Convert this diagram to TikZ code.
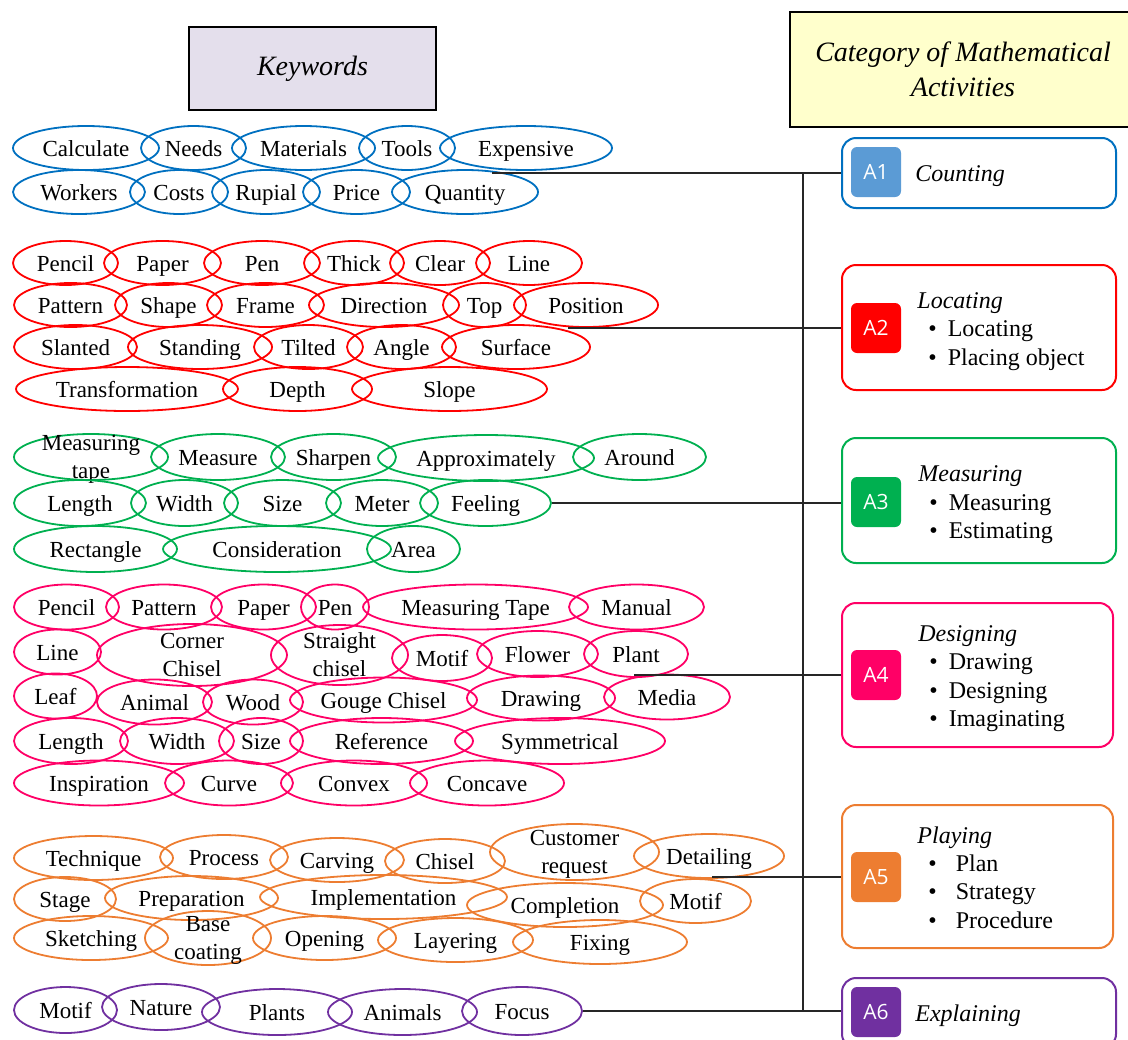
\documentclass[tikz,border=0pt]{standalone}
\usepackage{fontspec}
\setmainfont{Liberation Serif}
\newfontfamily\badgefont{Open Sans}
\usepackage{xcolor}
\usetikzlibrary{positioning,shapes.geometric}
\definecolor{kwblue}{RGB}{0,112,192}
\definecolor{kwred}{RGB}{255,0,0}
\definecolor{kwgreen}{RGB}{0,176,80}
\definecolor{kwpink}{RGB}{255,0,102}
\definecolor{kworange}{RGB}{237,125,49}
\definecolor{kwpurple}{RGB}{112,48,160}
\definecolor{badgeblue}{RGB}{91,155,213}
\definecolor{headlav}{RGB}{228,223,236}
\definecolor{headyellow}{RGB}{255,255,204}
\newcommand{\bitem}{\hspace*{5.5pt}\textbullet\hspace{5.5pt}}
\newcommand{\bitemw}{\hspace*{5.5pt}\textbullet\hspace{9.5pt}}
\newcommand{\twol}[2]{\begin{tabular}{@{}c@{}}#1\\#2\end{tabular}}

\begin{document}
\begin{tikzpicture}[x=0.5pt, y=-0.5pt,
    kw/.style={ellipse, draw=#1, line width=0.9pt, inner xsep=-30pt, inner ysep=0pt,
      minimum height=22pt, text height=9.5pt, text depth=1.5pt,
      font=\fontsize{11.5}{14}\selectfont},
    ew/.style={minimum width=#1*0.5pt},
    eh/.style={minimum height=#1*0.5pt},
    head/.style={draw=black, line width=1.4pt, align=center,
      font=\fontsize{14}{17.5}\selectfont\itshape},
    actbox/.style={draw=#1, line width=1pt, rounded corners=7pt, fill=white,
      minimum width=137pt},
    badge/.style={fill=#1, rounded corners=3pt, minimum width=25pt, minimum height=25pt,
      inner sep=0pt, text=white, font=\badgefont\fontsize{10.5}{12}\selectfont},
    acttext/.style={anchor=west, align=left, inner sep=0pt,
      font=\fontsize{12}{14.2}\selectfont},
    link/.style={line width=1pt, draw=black!85}]
  \useasboundingbox (0,0) rectangle (1128,1039);

  % headings
  \node[head, fill=headlav, minimum width=123.5pt, minimum height=41.5pt] (kwhead)
      at (312.5,68.5) {Keywords};
  \node[head, fill=headyellow, minimum width=173pt, minimum height=57.5pt] (cathead)
      at (963,69.5) {Category of Mathematical\\Activities};

  % keywords: counting
  \node[kw=kwblue, ew=146] (bCalc)  at (86,148)    {Calculate};
  \node[kw=kwblue, ew=105] (bNeeds) at (193.5,148) {Needs};
  \node[kw=kwblue, ew=143] (bMater) at (303.5,148) {Materials};
  \node[kw=kwblue, ew=96]  (bTools) at (407,148)   {Tools};
  \node[kw=kwblue, ew=172] (bExpen) at (526,148)   {Expensive};
  \node[kw=kwblue, ew=132] (bWork)  at (79,192)    {Workers};
  \node[kw=kwblue, ew=98]  (bCosts) at (179,192)   {Costs};
  \node[kw=kwblue, ew=108] (bRupia) at (266,192)   {Rupial};
  \node[kw=kwblue, ew=107] (bPrice) at (356.5,192) {Price};
  \node[kw=kwblue, ew=146] (bQuant) at (465,192)   {Quantity};

  % keywords: locating
  \node[kw=kwred, ew=105] (rPencil) at (65.5,263)  {Pencil};
  \node[kw=kwred, ew=117] (rPaper)  at (162.5,263) {Paper};
  \node[kw=kwred, ew=116] (rPen)    at (262,263)   {Pen};
  \node[kw=kwred, ew=100] (rThick)  at (354,263)   {Thick};
  \node[kw=kwred, ew=100] (rClear)  at (440,263)   {Clear};
  \node[kw=kwred, ew=106] (rLine)   at (529,263)   {Line};
  \node[kw=kwred, ew=113] (rPatt)   at (70.5,305)  {Pattern};
  \node[kw=kwred, ew=107] (rShape)  at (168.5,305) {Shape};
  \node[kw=kwred, ew=117] (rFrame)  at (265.5,305) {Frame};
  \node[kw=kwred, ew=150] (rDirec)  at (384,305)   {Direction};
  \node[kw=kwred, ew=83]  (rTop)    at (484.5,305) {Top};
  \node[kw=kwred, ew=144] (rPosit)  at (586,305)   {Position};
  \node[kw=kwred, ew=123] (rSlant)  at (75.5,347)  {Slanted};
  \node[kw=kwred, ew=144] (rStand)  at (200,347)   {Standing};
  \node[kw=kwred, ew=109] (rTilt)   at (308.5,347) {Tilted};
  \node[kw=kwred, ew=109] (rAngle)  at (401.5,347) {Angle};
  \node[kw=kwred, ew=148] (rSurf)   at (516,347)   {Surface};
  \node[kw=kwred, ew=222] (rTrans)  at (127,389)   {Transformation};
  \node[kw=kwred, ew=149] (rDepth)  at (297.5,389) {Depth};
  \node[kw=kwred, ew=195] (rSlope)  at (449.5,389) {Slope};

  % keywords: measuring
  \node[kw=kwgreen, ew=154, eh=46] (gMtape)  at (91,457)    {\twol{Measuring}{tape}};
  \node[kw=kwgreen, ew=134, eh=46] (gMeas)   at (218,457)   {Measure};
  \node[kw=kwgreen, ew=125, eh=46] (gSharp)  at (333.5,457) {Sharpen};
  \node[kw=kwgreen, ew=216, eh=46] (gApprox) at (486,458)   {Approximately};
  \node[kw=kwgreen, ew=133, eh=46] (gAround) at (639.5,457) {Around};
  \node[kw=kwgreen, ew=132, eh=46] (gLength) at (80,503)    {Length};
  \node[kw=kwgreen, ew=107, eh=46] (gWidth)  at (184.5,503) {Width};
  \node[kw=kwgreen, ew=117, eh=46] (gSize)   at (282.5,503) {Size};
  \node[kw=kwgreen, ew=112, eh=46] (gMeter)  at (382,503)   {Meter};
  \node[kw=kwgreen, ew=131, eh=46] (gFeel)   at (485.5,503) {Feeling};
  \node[kw=kwgreen, ew=163, eh=46] (gRect)   at (95.5,549)  {Rectangle};
  \node[kw=kwgreen, ew=228, eh=46] (gConsid) at (277,549)   {Consideration};
  \node[kw=kwgreen, ew=93, eh=46]  (gArea)   at (413.5,549) {Area};

  % keywords: designing
  \node[kw=kwpink, ew=105, eh=45] (pPencil) at (66.5,607)  {Pencil};
  \node[kw=kwpink, ew=116, eh=45] (pPatt)   at (164,607)   {Pattern};
  \node[kw=kwpink, ew=105, eh=45] (pPaper)  at (263.5,607) {Paper};
  \node[kw=kwpink, ew=68, eh=45]  (pPen)    at (335,607)   {Pen};
  \node[kw=kwpink, ew=225, eh=45] (pMtape)  at (475.5,607) {Measuring Tape};
  \node[kw=kwpink, ew=135, eh=45] (pManual) at (636.5,607) {Manual};
  \node[kw=kwpink, ew=87, eh=45]  (pLine)   at (57.5,652)  {Line};
  \node[kw=kwpink, ew=190, eh=62] (pCorner) at (192,655)   {\twol{Corner}{Chisel}};
  \node[kw=kwpink, ew=137, eh=60] (pStrai)  at (339.5,655) {\twol{Straight}{chisel}};
  \node[kw=kwpink, ew=100, eh=46] (pMotif)  at (442,658)   {Motif};
  \node[kw=kwpink, ew=121, eh=46] (pFlower) at (537.5,654) {Flower};
  \node[kw=kwpink, ew=104, eh=46] (pPlant)  at (636,654)   {Plant};
  \node[kw=kwpink, ew=83, eh=45]  (pLeaf)   at (55.5,696)  {Leaf};
  \node[kw=kwpink, ew=115, eh=45] (pAnimal) at (154.5,702) {Animal};
  \node[kw=kwpink, ew=100, eh=45] (pWood)   at (253,702)   {Wood};
  \node[kw=kwpink, ew=187, eh=45] (pGouge)  at (383.5,700) {Gouge Chisel};
  \node[kw=kwpink, ew=148, eh=45] (pDraw)   at (541,698)   {Drawing};
  \node[kw=kwpink, ew=126, eh=45] (pMedia)  at (667,697)   {Media};
  \node[kw=kwpink, ew=114, eh=46] (pLength) at (71,741)    {Length};
  \node[kw=kwpink, ew=114, eh=46] (pWidth)  at (177,741)   {Width};
  \node[kw=kwpink, ew=84, eh=46]  (pSize)   at (261,741)   {Size};
  \node[kw=kwpink, ew=183, eh=46] (pRef)    at (381.5,741) {Reference};
  \node[kw=kwpink, ew=210, eh=46] (pSymm)   at (560,741)   {Symmetrical};
  \node[kw=kwpink, ew=170, eh=45] (pInsp)   at (99,783)    {Inspiration};
  \node[kw=kwpink, ew=128, eh=45] (pCurve)  at (229,783)   {Curve};
  \node[kw=kwpink, ew=146, eh=45] (pConvex) at (354,783)   {Convex};
  \node[kw=kwpink, ew=154, eh=45] (pConcav) at (487,783)   {Concave};

  % keywords: playing
  \node[kw=kworange, ew=159] (oTech)   at (93.5,858)  {Technique};
  \node[kw=kworange, ew=128] (oProc)   at (224,857)   {Process};
  \node[kw=kworange, ew=134] (oCarv)   at (337,860)   {Carving};
  \node[kw=kworange, ew=120] (oChisel) at (445,861)   {Chisel};
  \node[kw=kworange, ew=169, eh=56] (oCust) at (574.5,852) {\twol{Customer}{request}};
  \node[kw=kworange, ew=150] (oDetail) at (709,856)   {Detailing};
  \node[kw=kworange, ew=102] (oStage)  at (65,899)    {Stage};
  \node[kw=kworange, ew=173] (oPrep)   at (191.5,898) {Preparation};
  \node[kw=kworange, ew=247] (oImpl)   at (383.5,897) {Implementation};
  \node[kw=kworange, ew=196] (oCompl)  at (565,905)   {Completion};
  \node[kw=kworange, ew=111] (oMotif)  at (695.5,901) {Motif};
  \node[kw=kworange, ew=154] (oSketch) at (91,938)    {Sketching};
  \node[kw=kworange, ew=126, eh=54] (oBase) at (208,938) {\twol{Base}{coating}};
  \node[kw=kworange, ew=143] (oOpen)   at (324.5,938) {Opening};
  \node[kw=kworange, ew=155] (oLayer)  at (455.5,940) {Layering};
  \node[kw=kworange, ew=174] (oFix)    at (600,942)   {Fixing};

  % keywords: explaining
  \node[kw=kwpurple, ew=103, eh=46] (vMotif)  at (65.5,1010)  {Motif};
  \node[kw=kwpurple, ew=118, eh=46] (vNature) at (161,1007)   {Nature};
  \node[kw=kwpurple, ew=150, eh=46] (vPlants) at (277,1012)   {Plants};
  \node[kw=kwpurple, ew=149, eh=46] (vAnim)   at (402.5,1012) {Animals};
  \node[kw=kwpurple, ew=120, eh=48] (vFocus)  at (522,1011)   {Focus};

  % activity boxes
  \node[actbox=kwblue, minimum height=35pt] (a1) at (979,173) {};
  \node[badge=badgeblue] (b1) at (876,172) {A1};
  \node[acttext] (t1) at (915,176) {\textit{Counting}};

  \node[actbox=kwred, minimum height=62.5pt] (a2) at (979,327.5) {};
  \node[badge=kwred] (b2) at (876,328) {A2};
  \node[acttext] (t2) at (917,331.5)
      {\textit{Locating}\\\bitem Locating\\\bitem Placing object};

  \node[actbox=kwgreen, minimum height=62.5pt] (a3) at (979,500.5) {};
  \node[badge=kwgreen] (b3) at (876,502) {A3};
  \node[acttext] (t3) at (918,505)
      {\textit{Measuring}\\\bitem Measuring\\\bitem Estimating};

  \node[actbox=kwpink, minimum width=135.5pt, minimum height=72pt] (a4) at (977.5,675) {};
  \node[badge=kwpink] (b4) at (876,675) {A4};
  \node[acttext] (t4) at (918,678.5)
      {\textit{Designing}\\\bitem Drawing\\\bitem Designing\\\bitem Imaginating};

  \node[actbox=kworange, minimum width=135.5pt, minimum height=71.5pt] (a5) at (977.5,876.5) {};
  \node[badge=kworange] (b5) at (876,877) {A5};
  \node[acttext] (t5) at (917,877.5)
      {\textit{Playing}\\\bitemw Plan\\\bitemw Strategy\\\bitemw Procedure};

  \node[actbox=kwpurple, minimum height=35pt] (a6) at (979,1013) {};
  \node[badge=kwpurple] (b6) at (876,1012) {A6};
  \node[acttext] (t6) at (915,1016) {\textit{Explaining}};

  % connectors
  \coordinate (k1) at (492,173);
  \coordinate (k2) at (568,328);
  \coordinate (k4) at (634,675);
  \coordinate (k5) at (712,877);
  \coordinate (bustop) at (803,173);
  \coordinate (busbot) at (803,1012);

  \draw[link] (k1) -- (k1 -| a1.west);
  \draw[link] (k2) -- (k2 -| a2.west);
  \draw[link] (gFeel.east) -- (gFeel.east -| a3.west);
  \draw[link] (k4) -- (k4 -| a4.west);
  \draw[link] (k5) -- (k5 -| a5.west);
  \draw[link] (vFocus.east) -- (vFocus.east -| a6.west);
  \draw[link] (bustop) -- (busbot);
\end{tikzpicture}
\end{document}
